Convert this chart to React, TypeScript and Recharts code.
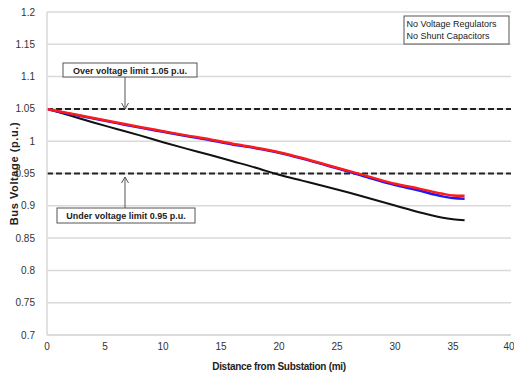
import React from "react";
import { LineChart, Line, XAxis, YAxis, CartesianGrid, ReferenceLine } from "recharts";

const distance = [0, 2, 4, 6, 8, 10, 12, 14, 16, 18, 20, 22, 24, 26, 28, 30, 32, 34, 35, 36];
const noRegBlack = [1.05, 1.0396, 1.029, 1.019, 1.009, 0.9985, 0.9885, 0.979, 0.969, 0.959, 0.948, 0.939, 0.93, 0.9205, 0.9105, 0.9005, 0.8905, 0.8818, 0.879, 0.8775];
const seriesRed = [1.05, 1.043, 1.036, 1.029, 1.022, 1.0155, 1.009, 1.003, 0.996, 0.99, 0.983, 0.974, 0.964, 0.954, 0.944, 0.934, 0.927, 0.919, 0.916, 0.9155];
const seriesBlue = [1.05, 1.042, 1.035, 1.028, 1.021, 1.0145, 1.008, 1.002, 0.995, 0.989, 0.982, 0.973, 0.963, 0.953, 0.942, 0.932, 0.924, 0.915, 0.912, 0.911];
const xTicks = [0, 5, 10, 15, 20, 25, 30, 35, 40];
const yTicks = [0.7, 0.75, 0.8, 0.85, 0.9, 0.95, 1, 1.05, 1.1, 1.15, 1.2];
const overLimit = 1.05;
const underLimit = 0.95;
const overLabel = "Over voltage limit 1.05 p.u.";
const underLabel = "Under voltage limit 0.95 p.u.";
const noteLines = ["No Voltage Regulators", "No Shunt Capacitors"];

const data = distance.map((d, i) => ({ d, black: noRegBlack[i], red: seriesRed[i], blue: seriesBlue[i] }));

const FONT = "'Liberation Sans', Arial, sans-serif";

export default function App() {
  return (
    <div style={{ position: "absolute", left: 0, top: 0, width: 514, height: 373, background: "#fff" }}>
      <LineChart width={514} height={373} data={data} margin={{ top: 12, right: 3, left: 0, bottom: 0 }}>
        <CartesianGrid vertical={false} stroke="#d9d9d9" strokeWidth={1.5} />
        <XAxis
          dataKey="d"
          type="number"
          domain={[0, 40]}
          ticks={xTicks}
          tickLine={false}
          axisLine={{ stroke: "#d9d9d9", strokeWidth: 1.5 }}
          height={38}
          tick={{ fontSize: 10, fill: "#333", fontFamily: FONT }}
          tickMargin={2}
          label={{ value: "Distance from Substation (mi)", position: "insideBottom", offset: 3, style: { fontSize: 10, fontWeight: "bold", fill: "#222", fontFamily: FONT, letterSpacing: -0.3 } }}
        />
        <YAxis
          type="number"
          domain={[0.7, 1.2]}
          ticks={yTicks}
          tickLine={false}
          axisLine={{ stroke: "#d9d9d9", strokeWidth: 1.5 }}
          width={47}
          interval={0}
          tick={{ fontSize: 10, fill: "#333", fontFamily: FONT }}
          tickMargin={6}
          tickFormatter={(v: number) => String(Number(v.toFixed(2)))}
          label={{ value: "Bus Voltage (p.u.)", angle: -90, position: "insideLeft", offset: 14, style: { textAnchor: "middle", fontSize: 11, fontWeight: "bold", fill: "#222", fontFamily: FONT, letterSpacing: 0.6 } }}
        />
        <ReferenceLine y={overLimit} stroke="#222" strokeWidth={2} strokeDasharray="6 3" />
        <ReferenceLine y={underLimit} stroke="#222" strokeWidth={2} strokeDasharray="6 3" />
        <Line dataKey="black" stroke="#111" strokeWidth={2} dot={false} isAnimationActive={false} type="monotone" />
        <Line dataKey="blue" stroke="#1a1aff" strokeWidth={2.5} dot={false} isAnimationActive={false} type="monotone" />
        <Line dataKey="red" stroke="#ff1a1a" strokeWidth={2.5} dot={false} isAnimationActive={false} type="monotone" />
      </LineChart>
      <svg width={514} height={373} style={{ position: "absolute", left: 0, top: 0, pointerEvents: "none" }}>
        <g fontFamily={FONT}>
          <line x1={125} y1={77} x2={125} y2={109} stroke="#555" strokeWidth={1} />
          <polyline points="121.5,103 125,109 128.5,103" fill="none" stroke="#555" strokeWidth={1} />
          <rect x={63} y={63} width={134} height={14} fill="#fff" stroke="#555" strokeWidth={1} />
          <text x={130} y={73.5} textAnchor="middle" fontSize={9} fontWeight="bold" fill="#222">{overLabel}</text>

          <line x1={125} y1={177} x2={125} y2={208} stroke="#555" strokeWidth={1} />
          <polyline points="121.5,183 125,177 128.5,183" fill="none" stroke="#555" strokeWidth={1} />
          <rect x={57} y={208} width={138} height={15} fill="#fff" stroke="#555" strokeWidth={1} />
          <text x={126} y={219} textAnchor="middle" fontSize={9} fontWeight="bold" fill="#222">{underLabel}</text>

          <rect x={404} y={16} width={105} height={28} fill="#fff" stroke="#555" strokeWidth={1} />
          <text x={406.5} y={27} fontSize={9} fill="#222">{noteLines[0]}</text>
          <text x={406.5} y={39} fontSize={9} fill="#222">{noteLines[1]}</text>
        </g>
      </svg>
    </div>
  );
}
